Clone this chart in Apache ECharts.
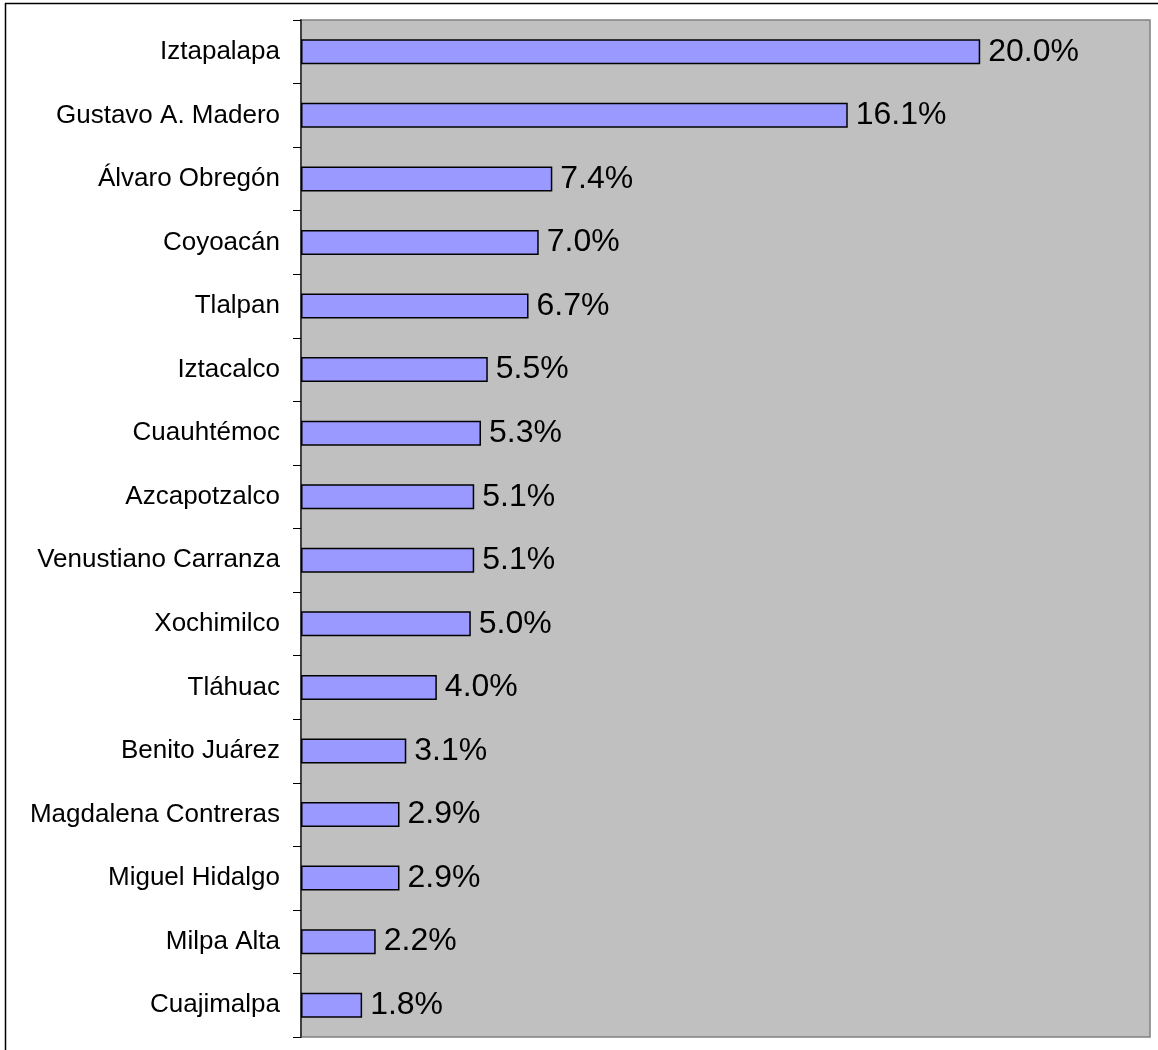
<!DOCTYPE html>
<html>
<head>
<meta charset="utf-8">
<script src="https://cdn.jsdelivr.net/npm/echarts@6/dist/echarts.min.js"></script>
<style>
  html, body { margin: 0; padding: 0; background: #fff; }
  #chart { width: 1158px; height: 1050px; }
</style>
</head>
<body>
<div id="chart"></div>
<script>
// Delegaciones of Mexico City and their share (%)
const delegaciones = [
  'Iztapalapa', 'Gustavo A. Madero', 'Álvaro Obregón', 'Coyoacán', 'Tlalpan',
  'Iztacalco', 'Cuauhtémoc', 'Azcapotzalco', 'Venustiano Carranza', 'Xochimilco',
  'Tláhuac', 'Benito Juárez', 'Magdalena Contreras', 'Miguel Hidalgo',
  'Milpa Alta', 'Cuajimalpa'
];
const porcentajes = [20.0, 16.1, 7.4, 7.0, 6.7, 5.5, 5.3, 5.1, 5.1, 5.0, 4.0, 3.1, 2.9, 2.9, 2.2, 1.8];
const escalaMax = 25;

const chart = echarts.init(document.getElementById('chart'), null, { renderer: 'canvas' });

chart.setOption({
  animation: false,
  backgroundColor: '#ffffff',
  textStyle: { fontFamily: '"Liberation Sans", Arial, sans-serif' },
  graphic: [
    { type: 'line', shape: { x1: 5, y1: 3.5, x2: 1158, y2: 3.5 }, style: { stroke: '#000', lineWidth: 1.5 }, z: 100 },
    { type: 'line', shape: { x1: 5.5, y1: 3, x2: 5.5, y2: 1050 }, style: { stroke: '#000', lineWidth: 1.5 }, z: 100 }
  ],
  grid: {
    left: 301, top: 20, right: 8, bottom: 13,
    show: true,
    backgroundColor: '#C0C0C0',
    borderColor: '#808080',
    borderWidth: 1.5
  },
  xAxis: {
    type: 'value',
    min: 0,
    max: escalaMax,
    show: false
  },
  yAxis: {
    type: 'category',
    data: delegaciones,
    inverse: true,
    axisLine: { show: true, lineStyle: { color: '#404040', width: 2 } },
    axisTick: { show: true, length: 8, interval: 0, lineStyle: { color: '#000', width: 1 } },
    axisLabel: {
      margin: 21,
      fontSize: 26,
      color: '#000',
      fontFamily: '"Liberation Sans", Arial, sans-serif'
    },
    splitLine: { show: false }
  },
  series: [{
    type: 'bar',
    data: porcentajes,
    barWidth: 25,
    itemStyle: { color: '#9999FF', borderColor: '#000', borderWidth: 1.5 },
    label: {
      show: true,
      position: 'right',
      distance: 8,
      fontSize: 32,
      color: '#000',
      fontFamily: '"Liberation Sans", Arial, sans-serif',
      formatter: p => p.value.toFixed(1) + '%'
    }
  }]
});
</script>
</body>
</html>
